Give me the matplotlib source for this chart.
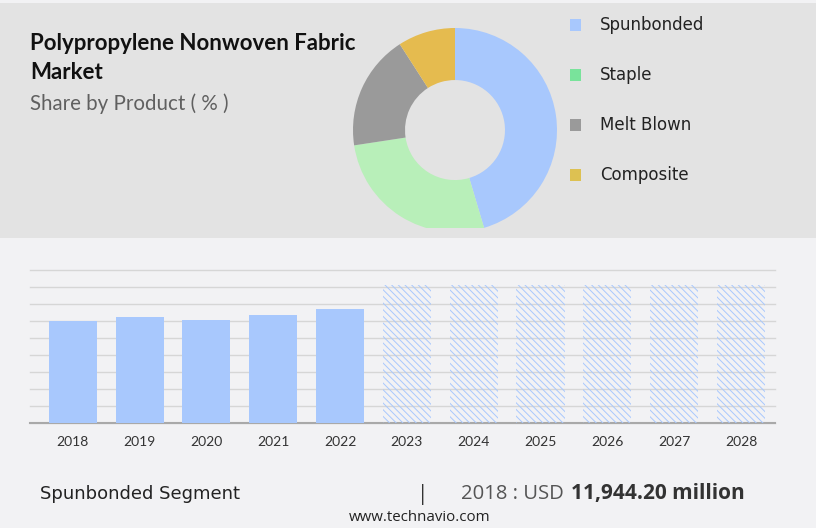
import matplotlib.pyplot as plt
from matplotlib.patches import Rectangle

# share by product (%), read from the donut
products = ["Spunbonded", "Staple", "Melt Blown", "Composite"]
shares = [45.4, 27.2, 18.3, 9.1]
slice_colors = ["#a8c8fd", "#b8efb9", "#9a9a9a", "#e5bb4f"]
legend_colors = ["#a8c8fd", "#79e39b", "#9a9a9a", "#ddc152"]

# spunbonded segment size, USD million
years = ["2018", "2019", "2020", "2021", "2022", "2023", "2024", "2025", "2026", "2027", "2028"]
history = [11944.2, 12420, 12140, 12740, 13460]
forecast = [16200, 16200, 16200, 16200, 16200, 16200]

W, H = 816, 528


def px(x, y):
    return x / W, 1 - y / H


plt.rcParams["hatch.linewidth"] = 0.7

fig = plt.figure(figsize=(W / 100, H / 100), dpi=100)
fig.patch.set_facecolor("#f2f2f4")
fig.add_artist(Rectangle(px(0, 238), 1, 235 / H, transform=fig.transFigure,
                         facecolor="#e3e3e3", edgecolor="none", zorder=0))

# donut, clipped at the bottom like the original
l, t = px(353, 28)
_, b = px(557, 228)
ax_pie = fig.add_axes([l, b, 204 / W, t - b])
wedges, _ = ax_pie.pie(shares, colors=slice_colors, startangle=90, counterclock=False,
                       radius=1.0, wedgeprops=dict(width=0.51, edgecolor="none"))
for w in wedges:
    w.set_clip_on(True)
    w.set_clip_path(ax_pie.patch)
ax_pie.set_xlim(-1, 1)
ax_pie.set_ylim(-0.96, 1.0)
ax_pie.set_aspect("auto")
ax_pie.axis("off")

# legend
for i, (name, col) in enumerate(zip(products, legend_colors)):
    yc = 25 + 50 * i
    fig.add_artist(Rectangle(px(570, yc + 5.5), 11 / W, 11 / H, transform=fig.transFigure,
                             facecolor=col, edgecolor="none"))
    fig.text(*px(600, yc + 5), name, fontsize=12, color="#222222",
             family="DejaVu Sans", va="baseline", ha="left")

# titles
fig.text(*px(30, 50), "Polypropylene Nonwoven Fabric", fontsize=16, fontweight="bold",
         family="Lato", color="#111111", va="baseline")
fig.text(*px(30, 79), "Market", fontsize=16, fontweight="bold",
         family="Lato", color="#111111", va="baseline")
fig.text(*px(30, 110), "Share by Product ( % )", fontsize=14.8, family="Lato",
         color="#606060", va="baseline")

# bar chart
l, t = px(30, 270)
_, b = px(775, 423)
ax = fig.add_axes([l, b, 745 / W, t - b])
ax.set_facecolor("none")
x_hist = range(len(history))
x_fc = range(len(history), len(years))
ax.bar(x_hist, history, width=0.72, color="#a8c8fd", zorder=3)
ax.bar(x_fc, forecast, width=0.72, facecolor="none", edgecolor="#a8c8fd",
       hatch="\\" * 5, linewidth=0, zorder=3)
ax.set_xlim(-0.64, 10.51)
ax.set_ylim(0, 18000)
ax.set_yticks(range(0, 18001, 2000))
ax.yaxis.grid(True, color="#d6d6d6", linewidth=1)
ax.set_axisbelow(True)
ax.tick_params(axis="y", left=False, labelleft=False)
ax.set_xticks(range(len(years)))
ax.set_xticklabels(years, family="Lato", fontsize=10, color="#333333")
ax.tick_params(axis="x", length=0, pad=9)
for s in ["top", "left", "right"]:
    ax.spines[s].set_visible(False)
ax.spines["bottom"].set_color("#a9a9a9")
ax.spines["bottom"].set_linewidth(1.5)
for gl in ax.yaxis.get_gridlines():
    gl.set_clip_on(False)

# footer
fig.text(*px(40, 499), "Spunbonded Segment", fontsize=13, family="DejaVu Sans",
         color="#222222", va="baseline")
fig.text(*px(423, 500), "|", fontsize=15, family="Open Sans", color="#333333",
         va="baseline", ha="center")
fig.text(*px(461, 499), "2018 : USD", fontsize=14.6, family="Open Sans",
         color="#555555", va="baseline")
fig.text(*px(571, 499), "11,944.20 million", fontsize=15, family="Open Sans",
         fontweight="bold", color="#333333", va="baseline")
fig.text(*px(420, 521), "www.technavio.com", fontsize=10.8, family="Open Sans",
         color="#222222", va="baseline", ha="center")

fig.savefig("out.png", dpi=100, facecolor=fig.get_facecolor())
